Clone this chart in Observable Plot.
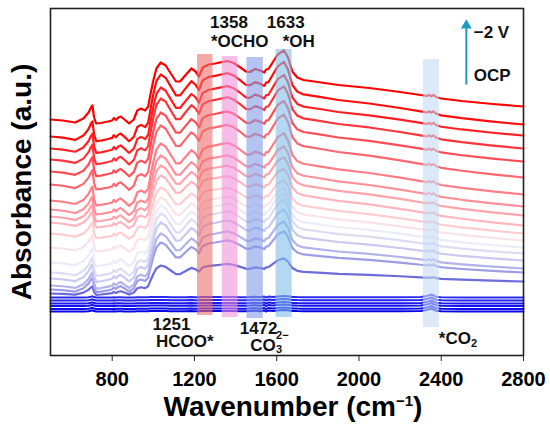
<!DOCTYPE html>
<html><head><meta charset="utf-8">
<script src="https://cdn.jsdelivr.net/npm/d3@7"></script>
<script src="https://cdn.jsdelivr.net/npm/@observablehq/plot@0.6"></script>
<style>body{margin:0;background:#fff}#chart{width:550px;height:428px}</style>
</head><body><div id="chart"></div>
<script>
// Shared wavenumber grid (cm^-1)
const wavenumber = [500,560,620,660,685,697,704,712,722,745,780,800,808,818,830,841,860,882,905,922,940,960,975,985,1000,1015,1036,1060,1085,1110,1130,1155,1185,1205,1222,1240,1270,1300,1335,1360,1390,1420,1450,1470,1495,1520,1540,1548,1560,1580,1605,1635,1655,1676,1700,1730,1800,1900,2050,2200,2300,2330,2342,2352,2362,2375,2400,2500,2650,2800];
// Top (-2 V) trace, absorbance a.u.
const topTrace = [2.36,2.35,2.33,2.37,2.43,2.48,2.50,2.38,2.32,2.325,2.34,2.35,2.375,2.355,2.38,2.39,2.36,2.32,2.36,2.45,2.47,2.45,2.49,2.60,2.75,2.87,2.93,2.90,2.82,2.74,2.74,2.80,2.87,2.84,2.79,2.88,2.91,2.92,2.935,2.945,2.925,2.885,2.84,2.835,2.865,2.85,2.83,2.86,2.865,2.93,3.01,3.05,2.98,2.84,2.78,2.755,2.735,2.705,2.675,2.635,2.605,2.595,2.607,2.592,2.607,2.585,2.57,2.545,2.515,2.49];
// Read levels of each stacked trace (top to bottom): at 500, at the 1036 band, at 2800 cm^-1
const startLevel = [2.36,2.19,2.07,1.96,1.84,1.71,1.55,1.46,1.39,1.33,1.22,1.08,0.93,0.83,0.77,0.70,0.66,0.62];
const peakLevel  = [2.93,2.81,2.68,2.57,2.43,2.30,2.12,2.00,1.90,1.80,1.68,1.58,1.50,1.42,1.33,1.22,1.13,0.90];
const endLevel   = [2.49,2.31,2.20,2.07,1.94,1.78,1.61,1.49,1.40,1.30,1.22,1.15,1.08,1.02,0.95,0.87,0.83,0.74];
const traceColors = ["#ff0000","#ff0c0c","#ff1f24","#ff333a","#ff4d55","#ff6670","#ff7d86","#ff8f98","#ffa3ab","#ffb6bd","#ffccd2","#fbe2e8","#ecebf8","#dcdcf5","#c9c9f1","#b3b3ec","#9d9de6","#6b6bdc"];
// Near-OCP flat traces
const flatLevel = [0.58,0.55,0.52,0.495,0.465,0.44];
const flatFeature = [0,0,0,0,0.003,0.008,0.012,0.004,0,0,0,0,0.003,0,0.002,0.003,0,0,0,0.002,0.003,0.002,0.003,0.004,0.005,0.006,0.006,0.005,0.003,0.002,0.002,0.003,0.004,0.003,0.002,0.004,0.004,0.004,0.004,0.004,0.004,0.003,0.002,0.004,0.008,0.003,0.01,0,0.009,0.006,0.01,0.016,0.012,0.006,0.004,0.003,0.002,0.002,0.002,0.003,0.006,0.016,0.022,0.03,0.02,0.008,0.002,0.001,0,0];
const flatColors = ["#2c2cf0","#2222ee","#1a1aec","#1212ea","#0c0ce8","#0606e6"];
// Highlighted bands
const bandFrom = [1215,1335,1455,1597,2313];
const bandTo = [1290,1412,1535,1675,2391];
const bandTop = [3.01,2.99,2.98,3.06,2.96];
const bandBottom = [0.40,0.38,0.37,0.38,0.28];
const bandColors = ["#ee6e6e","#ee91d9","#829de6","#82bee9","#c5daf3"];
// Annotations
const noteText = ["1358","*OCHO","1633","*OH","1251","HCOO*","1472"];
const noteX = [1368,1420,1644,1707,1088,1153,1512];
const noteY = [3.28,3.09,3.28,3.09,0.26,0.09,0.215];
const xTicks = [800,1200,1600,2000,2400,2800];

const n = wavenumber.length;
const i1036 = wavenumber.indexOf(1036);
const span = wavenumber[n-1] - wavenumber[0];
const wP = (1036 - wavenumber[0]) / span;
const dP = topTrace[i1036] - topTrace[0];
const dE = topTrace[n-1] - topTrace[0];

const traceRows = startLevel.map((L, t) => {
  const P = peakLevel[t], R = endLevel[t];
  const k = (P - L - (R - L) * wP) / (dP - dE * wP);
  const tilt = R - L - k * dE;
  return wavenumber.map((w, j) => ({w, a: L + k * (topTrace[j] - topTrace[0]) + tilt * (w - wavenumber[0]) / span}));
});
const flatRows = flatLevel.map(L => wavenumber.map((w, j) => ({w, a: L + flatFeature[j]})));

const font = "'Liberation Sans', Arial, sans-serif";
const ink = "#111";
const marks = [];
flatRows.forEach((rows, i) => marks.push(Plot.line(rows, {x: "w", y: "a", stroke: flatColors[i], strokeWidth: 2})));
for (let t = traceRows.length - 1; t >= 0; t--) {
  marks.push(Plot.line(traceRows[t], {x: "w", y: "a", stroke: traceColors[t], strokeWidth: 2.2}));
}
bandFrom.forEach((b, i) => marks.push(Plot.rect([i], {x1: d => bandFrom[d], x2: d => bandTo[d], y1: d => bandBottom[d], y2: d => bandTop[d], fill: bandColors[i], fillOpacity: 0.6})));
marks.push(Plot.frame({stroke: "#222", strokeWidth: 1.6}));
marks.push(Plot.axisX({ticks: xTicks, tickFormat: d => String(d), tickSize: 6, tickPadding: 10, fontSize: 20, fontWeight: "bold", label: null, stroke: "#222"}));
marks.push(Plot.text(noteText, {x: (d, i) => noteX[i], y: (d, i) => noteY[i], text: d => d, fontSize: 17, fontWeight: "bold", textAnchor: "middle", lineAnchor: "bottom", fill: ink}));
marks.push(Plot.text(["CO"], {x: () => 1595, y: () => 0.043, text: d => d, fontSize: 17, fontWeight: "bold", textAnchor: "end", lineAnchor: "bottom", fill: ink}));
marks.push(Plot.text(["2\u2212"], {x: () => 1597, y: () => 0.165, text: d => d, fontSize: 11, fontWeight: "bold", textAnchor: "start", lineAnchor: "bottom", fill: ink}));
marks.push(Plot.text(["3"], {x: () => 1597, y: () => 0.025, text: d => d, fontSize: 11, fontWeight: "bold", textAnchor: "start", lineAnchor: "bottom", fill: ink}));
marks.push(Plot.text(["*CO"], {x: () => 2388, y: () => 0.115, text: d => d, fontSize: 17, fontWeight: "bold", textAnchor: "start", lineAnchor: "bottom", fill: ink}));
marks.push(Plot.text(["2"], {x: () => 2545, y: () => 0.085, text: d => d, fontSize: 11, fontWeight: "bold", textAnchor: "start", lineAnchor: "bottom", fill: ink}));
marks.push(Plot.text(["\u22122 V", "OCP"], {x: () => 2558, y: (d, i) => [3.18, 2.75][i], text: d => d, fontSize: 17, fontWeight: "bold", textAnchor: "start", lineAnchor: "bottom", fill: ink}));
marks.push(Plot.link([0], {x1: () => 2522, x2: () => 2522, y1: () => 2.71, y2: () => 3.28, stroke: "#1a9bc4", strokeWidth: 2}));
marks.push(Plot.dot([0], {x: () => 2522, y: () => 3.30, symbol: "triangle", r: 4, fill: "#1a9bc4", stroke: "none"}));
marks.push(Plot.text(["Wavenumber (cm\u22121)"], {frameAnchor: "bottom", dy: 60.5, dx: 6, text: d => d, fontSize: 28, fontWeight: "bold", textAnchor: "middle", lineAnchor: "bottom", fill: "#000"}));
marks.push(Plot.text(["Absorbance (a.u.)"], {frameAnchor: "left", dx: -28.5, rotate: -90, text: d => d, fontSize: 28, fontWeight: "bold", textAnchor: "middle", lineAnchor: "middle", fill: "#000"}));

const chart = Plot.plot({
  width: 550, height: 428,
  marginLeft: 50, marginRight: 27, marginTop: 8, marginBottom: 73,
  style: {fontFamily: font, background: "#fff", color: "#000"},
  x: {domain: [500, 2800]},
  y: {domain: [0, 3.47], axis: null},
  marks
});
chart.querySelectorAll("text").forEach(t => {
  if (t.textContent === "Wavenumber (cm\u22121)") {
    t.innerHTML = 'Wavenumber (cm<tspan dy="-10" font-size="15">\u22121</tspan><tspan dy="10">)</tspan>';
  }
});
document.getElementById("chart").appendChild(chart);
</script>
</body></html>
